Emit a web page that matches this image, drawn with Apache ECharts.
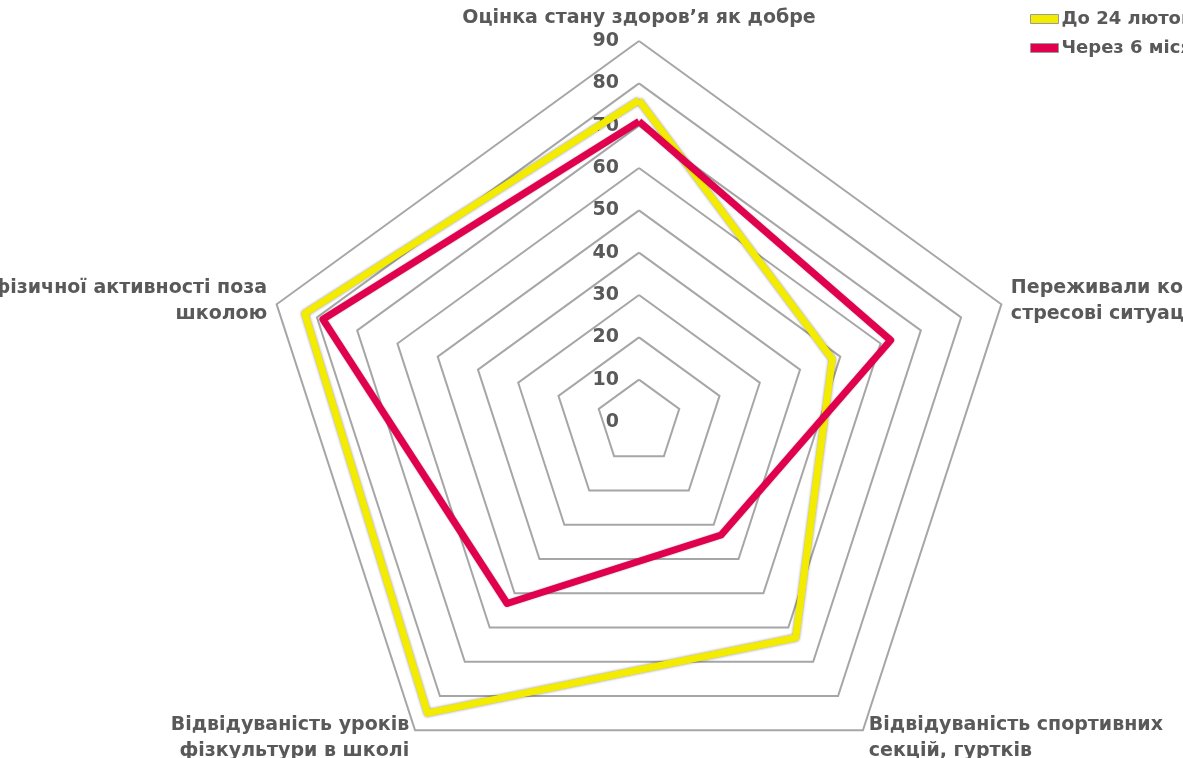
<!DOCTYPE html>
<html>
<head>
<meta charset="utf-8">
<script src="https://cdn.jsdelivr.net/npm/echarts@6/dist/echarts.min.js"></script>
<style>html,body{margin:0;padding:0;background:#fff;overflow:hidden}#c{width:1183px;height:758px}</style>
</head>
<body>
<div id="c"></div>
<script>
// Indicators in ECharts (counter-clockwise from top) order
const indicatorNames = [
  'Оцінка стану здоров\u2019я як добре',
  'Наявність фізичної активності поза\nшколою',
  'Відвідуваність уроків\nфізкультури в школі',
  'Відвідуваність спортивних\nсекцій, гуртків',
  'Переживали конфліктні,\nстресові ситуації'
];
const seriesNames = ['До 24 лютого', 'Через 6 місяців'];
const beforeValues = [76, 83, 85, 63, 48];
const afterValues = [71, 78.5, 53, 33, 62.5];
const axisMin = 0;
const axisMax = 90;
const splitCount = 9;

const chart = echarts.init(document.getElementById('c'), null, {renderer: 'canvas'});
const textColor = '#595959';
const font = 'DejaVu Sans';

chart.setOption({
  animation: false,
  backgroundColor: '#ffffff',
  legend: {
    orient: 'vertical',
    left: 1025,
    top: 5,
    itemWidth: 28,
    itemHeight: 9,
    itemGap: 11,
    icon: 'rect',
    textStyle: {color: textColor, fontSize: 18, fontWeight: 'bold', fontFamily: font, padding: [0, 0, 0, -2]},
    data: [
      {name: seriesNames[0], itemStyle: {color: '#f4ec00', borderColor: '#9a9a9a', borderWidth: 1}},
      {name: seriesNames[1], itemStyle: {color: '#e0004d', borderColor: '#9a9a9a', borderWidth: 1}}
    ]
  },
  radar: {
    center: [639, 422],
    radius: 381,
    startAngle: 90,
    splitNumber: splitCount,
    shape: 'polygon',
    nameGap: 10,
    axisName: {color: textColor, fontSize: 19, fontWeight: 'bold', fontFamily: font, lineHeight: 26},
    axisLine: {show: false},
    axisTick: {show: false},
    axisLabel: {show: false, color: textColor, fontSize: 19, fontWeight: 'bold', fontFamily: font, margin: 20},
    splitLine: {lineStyle: {color: '#a6a6a6', width: 2}},
    splitArea: {show: false},
    indicator: indicatorNames.map((n, i) => {
      const o = {name: n, min: axisMin, max: axisMax};
      if (i === 0) o.axisLabel = {show: true};
      return o;
    })
  },
  series: [{
    type: 'radar',
    symbol: 'none',
    data: [
      {
        name: seriesNames[0],
        value: beforeValues,
        lineStyle: {color: '#f4ec00', width: 7, shadowColor: 'rgba(0,0,0,0.45)', shadowBlur: 3},
        itemStyle: {color: '#f4ec00'}
      },
      {
        name: seriesNames[1],
        value: afterValues,
        lineStyle: {color: '#e0004d', width: 7, shadowColor: 'rgba(0,0,0,0.3)', shadowBlur: 2},
        itemStyle: {color: '#e0004d'}
      }
    ]
  }]
});
</script>
</body>
</html>
